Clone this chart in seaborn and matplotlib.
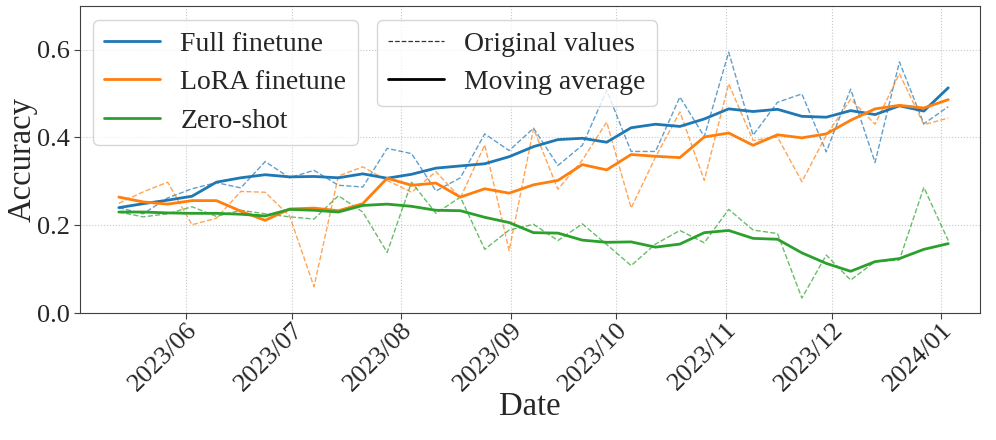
import matplotlib
matplotlib.use('Agg')
import matplotlib.pyplot as plt
import matplotlib.dates as mdates
from matplotlib.lines import Line2D
import pandas as pd
import seaborn as sns

# dates of the evaluation runs (35 roughly weekly points)
dates = pd.date_range('2023-05-13', '2024-01-03', periods=35)

# original values
full_raw = [0.240, 0.226, 0.262, 0.283, 0.297, 0.285, 0.345, 0.308, 0.325, 0.291, 0.287, 0.375,
            0.363, 0.278, 0.308, 0.408, 0.370, 0.421, 0.336, 0.382, 0.507, 0.368, 0.368, 0.492,
            0.402, 0.594, 0.405, 0.480, 0.499, 0.367, 0.510, 0.343, 0.572, 0.431, 0.470]
lora_raw = [0.250, 0.276, 0.298, 0.201, 0.216, 0.277, 0.275, 0.221, 0.060, 0.312, 0.333, 0.302,
            0.275, 0.322, 0.262, 0.383, 0.142, 0.420, 0.282, 0.348, 0.435, 0.239, 0.355, 0.458,
            0.302, 0.522, 0.393, 0.401, 0.299, 0.405, 0.487, 0.430, 0.545, 0.429, 0.444]
zero_raw = [0.230, 0.219, 0.226, 0.242, 0.220, 0.234, 0.226, 0.219, 0.214, 0.267, 0.230, 0.138,
            0.298, 0.227, 0.264, 0.145, 0.189, 0.202, 0.165, 0.203, 0.156, 0.108, 0.157, 0.188,
            0.160, 0.236, 0.189, 0.181, 0.034, 0.132, 0.075, 0.117, 0.121, 0.286, 0.165]

# moving averages
full_ma = [0.240, 0.249, 0.257, 0.266, 0.298, 0.308, 0.315, 0.310, 0.311, 0.308, 0.317, 0.307,
           0.316, 0.330, 0.335, 0.340, 0.356, 0.379, 0.395, 0.398, 0.389, 0.422, 0.430, 0.425,
           0.442, 0.465, 0.459, 0.464, 0.448, 0.446, 0.461, 0.452, 0.472, 0.460, 0.513]
lora_ma = [0.264, 0.253, 0.248, 0.256, 0.256, 0.232, 0.211, 0.237, 0.239, 0.233, 0.249, 0.307,
           0.291, 0.296, 0.264, 0.283, 0.273, 0.292, 0.302, 0.338, 0.326, 0.361, 0.357, 0.354,
           0.401, 0.410, 0.382, 0.406, 0.399, 0.408, 0.439, 0.465, 0.473, 0.467, 0.486]
zero_ma = [0.230, 0.230, 0.228, 0.227, 0.227, 0.225, 0.221, 0.236, 0.234, 0.230, 0.245, 0.248,
           0.243, 0.234, 0.233, 0.218, 0.206, 0.183, 0.182, 0.166, 0.161, 0.162, 0.150, 0.157,
           0.183, 0.188, 0.170, 0.168, 0.137, 0.113, 0.095, 0.117, 0.124, 0.145, 0.158]

methods = ['Full finetune', 'LoRA finetune', 'Zero-shot']
colors = ['#1f77b4', '#ff7f0e', '#2ca02c']

sns.set_style('whitegrid', {'grid.linestyle': ':', 'grid.color': '#c8c8c8',
                            'axes.edgecolor': '#404040'})
plt.rcParams['font.family'] = ['Liberation Serif', 'DejaVu Serif']

raw = pd.DataFrame({'date': list(dates) * 3,
                    'acc': full_raw + lora_raw + zero_raw,
                    'method': sum([[m] * len(dates) for m in methods], [])})
ma = pd.DataFrame({'date': list(dates) * 3,
                   'acc': full_ma + lora_ma + zero_ma,
                   'method': sum([[m] * len(dates) for m in methods], [])})

fig = plt.figure(figsize=(9.96, 4.4), dpi=100)
ax = fig.add_axes([80 / 996, 127 / 440, 900 / 996, 307.3 / 440])

sns.lineplot(data=raw, x='date', y='acc', hue='method', palette=colors, ax=ax,
             linestyle='--', linewidth=1.0, alpha=0.7, legend=False)
sns.lineplot(data=ma, x='date', y='acc', hue='method', palette=colors, ax=ax,
             linewidth=2.0, legend=False)

ax.set_ylim(0, 0.7)
ax.set_yticks([0.0, 0.2, 0.4, 0.6])
ax.set_xlim(pd.Timestamp('2023-05-02'), pd.Timestamp('2024-01-12'))
ax.xaxis.set_major_locator(mdates.MonthLocator())
ax.xaxis.set_major_formatter(mdates.DateFormatter('%Y/%m'))
ax.tick_params(axis='both', labelsize=19, length=4, color='#404040')
ax.tick_params(axis='x', pad=0)
ax.tick_params(axis='both', which='both', bottom=True, left=True)
plt.setp(ax.get_xticklabels(), rotation=45, ha='right', rotation_mode='anchor')
ax.set_xlabel('Date', fontsize=23.5, labelpad=-3)
ax.set_ylabel('Accuracy', fontsize=23.5, labelpad=-1)

# legend 1: methods, legend 2: line styles
h1 = [Line2D([0], [0], color=c, lw=2.0) for c in colors]
leg1 = ax.legend(h1, methods, loc='upper left', bbox_to_anchor=(0.0144, 0.953),
                 borderaxespad=0, fontsize=20, frameon=True, handlelength=2.0,
                 borderpad=0.4, labelspacing=0.47, handletextpad=0.75)
ax.add_artist(leg1)
h2 = [Line2D([0], [0], color='black', lw=0.9, ls='--', alpha=0.8),
      Line2D([0], [0], color='black', lw=2.0)]
ax.legend(h2, ['Original values', 'Moving average'], loc='upper left',
          bbox_to_anchor=(0.33, 0.953), borderaxespad=0, fontsize=20, frameon=True,
          handlelength=2.0, borderpad=0.4, labelspacing=0.47, handletextpad=0.75)

fig.savefig('out.png', dpi=100)
